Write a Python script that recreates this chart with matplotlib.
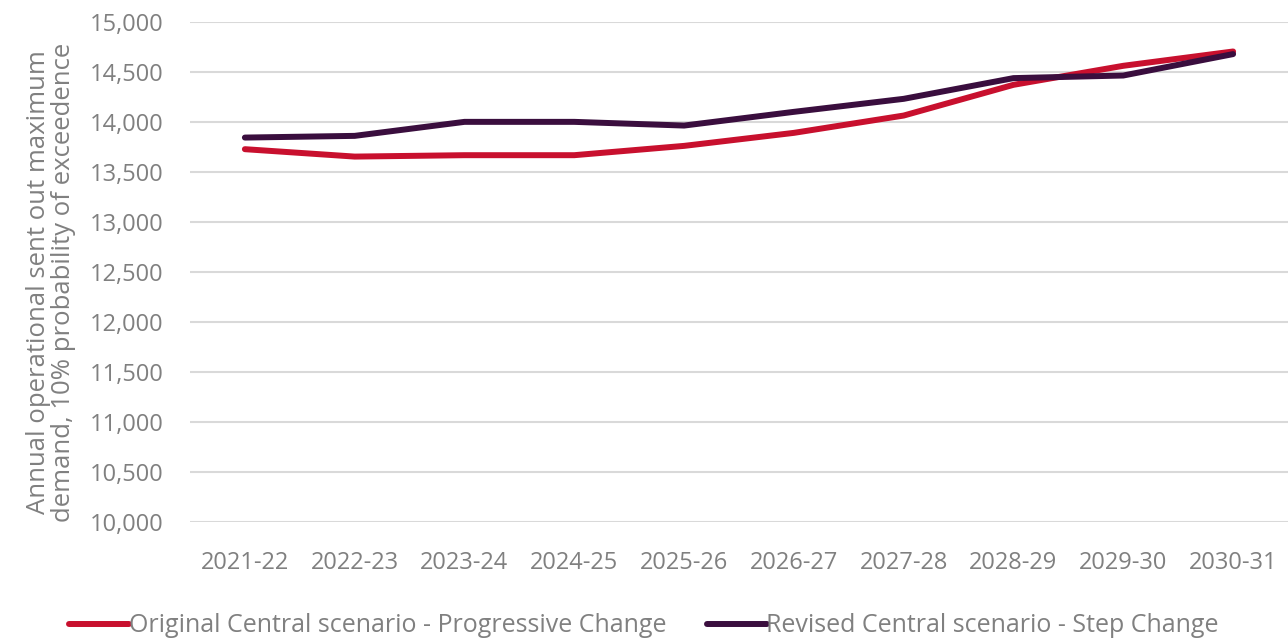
import matplotlib
matplotlib.use("Agg")
import matplotlib.pyplot as plt
from matplotlib.ticker import FuncFormatter

plt.rcParams['font.family'] = ['Open Sans', 'DejaVu Sans']

years = ['2021-22', '2022-23', '2023-24', '2024-25', '2025-26',
         '2026-27', '2027-28', '2028-29', '2029-30', '2030-31']
original_progressive = [13727, 13653, 13667, 13667, 13760,
                        13890, 14063, 14370, 14560, 14703]
revised_step = [13843, 13860, 14000, 14000, 13963,
                14100, 14230, 14437, 14463, 14677]

grey = '#808080'
red = '#C8102E'
plum = '#3A0E3E'

fig = plt.figure(figsize=(12.88, 6.4), dpi=100)
ax = fig.add_axes([0.1475, 0.184, 0.8525, 0.782])

x = range(len(years))
ax.plot(x, original_progressive, color=red, lw=4.3, solid_capstyle='round',
        label='Original Central scenario - Progressive Change')
ax.plot(x, revised_step, color=plum, lw=4.3, solid_capstyle='round',
        label='Revised Central scenario - Step Change')

ax.set_xlim(-0.5, len(years) - 0.5)
ax.set_ylim(10000, 15000)
ax.set_yticks(range(10000, 15001, 500))
ax.yaxis.set_major_formatter(FuncFormatter(lambda v, p: f'{int(v):,}'))
ax.set_xticks(list(x))
ax.set_xticklabels(years)

ax.grid(axis='y', color='#d9d9d9', lw=1.5)
ax.set_axisbelow(True)
for s in ax.spines.values():
    s.set_visible(False)
ax.tick_params(length=0, labelsize=17, labelcolor=grey)
ax.tick_params(axis='y', pad=19)
ax.tick_params(axis='x', pad=21)

ax.set_ylabel('Annual operational sent out maximum\ndemand, 10% probability of exceedence',
              fontsize=18.5, color=grey, linespacing=1.0)
ax.yaxis.set_label_coords(-0.104, 0.48)

leg = fig.legend(loc='center', bbox_to_anchor=(0.5, 14 / 640), ncol=2,
                 frameon=False, fontsize=18, handlelength=2.4,
                 handletextpad=0.0, columnspacing=1.6)
for t in leg.get_texts():
    t.set_color(grey)

fig.savefig('out.png', dpi=100)
